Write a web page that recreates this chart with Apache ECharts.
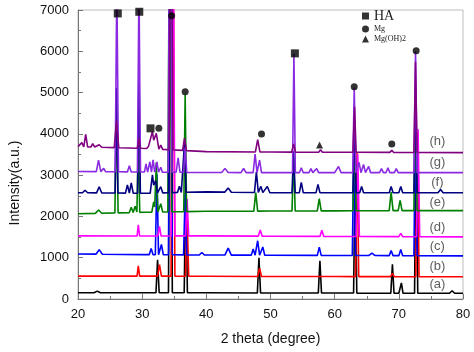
<!DOCTYPE html>
<html>
<head>
<meta charset="utf-8">
<script src="https://cdn.jsdelivr.net/npm/echarts@6/dist/echarts.min.js"></script>
<style>
  html, body { margin: 0; padding: 0; background: #fff; }
  #main { width: 474px; height: 352px; }
</style>
</head>
<body>
<div id="main"></div>
<script>
// baseline knots (2 theta) shared by all traces
var knots = [20, 30, 40, 50, 60, 70, 80];

var traceNames = ['(a)', '(b)', '(c)', '(d)', '(e)', '(f)', '(g)', '(h)'];
var traceColors = ['#000000', '#ff0000', '#0000ff', '#ff00ff', '#008000', '#000080', '#8a2be2', '#800080'];

// baseline level of each trace at the knots
var base_a = [150, 150, 150, 145, 145, 140, 140];
var base_b = [555, 555, 550, 545, 545, 540, 540];
var base_c = [1090, 1075, 1065, 1060, 1055, 1050, 1045];
var base_d = [1530, 1525, 1530, 1520, 1515, 1510, 1505];
var base_e = [2065, 2100, 2125, 2130, 2135, 2140, 2140];
var base_f = [2575, 2560, 2595, 2575, 2575, 2575, 2575];
var base_g = [3090, 3075, 3065, 3060, 3060, 3060, 3060];
var base_h = [3690, 3650, 3570, 3560, 3555, 3550, 3545];

// peaks: [2 theta, height above baseline, half width]
var peaks_a = [[23.0, 40, 0.5], [32.4, 800, 0.25], [34.4, 9000, 0.3], [36.8, 2800, 0.25], [48.2, 850, 0.25],
    [57.7, 780, 0.25], [63.2, 3200, 0.25], [69.0, 700, 0.25], [70.4, 250, 0.25], [72.7, 4000, 0.25], [78.3, 60, 0.4]];
var peaks_b = [[29.4, 250, 0.2], [32.7, 280, 0.3], [34.8, 9000, 0.3], [37.0, 1500, 0.25], [48.3, 200, 0.3],
    [63.5, 3000, 0.25], [69.0, 80, 0.3], [72.9, 3500, 0.25]];
var peaks_c = [[23.3, 110, 0.5], [31.4, 150, 0.3], [32.3, 1950, 0.25], [33.0, 250, 0.3], [34.4, 9000, 0.3],
    [36.7, 1500, 0.25], [39.3, 60, 0.4], [43.4, 170, 0.5], [47.3, 150, 0.3], [48.0, 350, 0.3], [48.8, 200, 0.3],
    [57.6, 200, 0.3], [63.0, 2800, 0.25], [65.8, 60, 0.5], [68.8, 120, 0.3], [70.3, 150, 0.3], [72.6, 3400, 0.25]];
var peaks_d = [[29.4, 270, 0.2], [32.7, 230, 0.25], [34.8, 9000, 0.3], [37.0, 900, 0.25], [48.4, 150, 0.3],
    [58.0, 150, 0.3], [63.6, 2000, 0.25], [70.3, 80, 0.3], [73.0, 2600, 0.25]];
var peaks_e = [[23.2, 80, 0.5], [26.0, 2700, 0.25], [28.3, 130, 0.3], [28.9, 150, 0.3], [29.4, 1800, 0.22],
    [31.8, 250, 0.3], [32.2, 1200, 0.25], [32.9, 200, 0.3], [34.3, 9000, 0.3], [36.7, 2830, 0.22],
    [47.7, 450, 0.3], [53.6, 1300, 0.25], [57.6, 300, 0.3], [63.1, 2000, 0.25], [68.8, 450, 0.3],
    [70.2, 250, 0.3], [72.6, 2700, 0.25]];
var peaks_f = [[21.1, 60, 0.4], [23.3, 150, 0.4], [26.0, 2550, 0.22], [27.7, 200, 0.3], [28.3, 250, 0.3],
    [29.5, 2850, 0.22], [31.6, 440, 0.35], [32.1, 300, 0.3], [32.9, 150, 0.3], [34.4, 9000, 0.3],
    [35.8, 150, 0.3], [36.6, 1200, 0.25], [43.4, 100, 0.5], [47.8, 500, 0.3], [48.5, 150, 0.3],
    [49.5, 150, 0.4], [53.6, 1000, 0.25], [54.8, 250, 0.3], [57.4, 200, 0.3], [63.1, 1700, 0.25],
    [64.2, 150, 0.3], [68.8, 150, 0.3], [70.3, 150, 0.3], [72.6, 2600, 0.25], [76.5, 80, 0.4]];
var peaks_g = [[23.2, 280, 0.35], [24.0, 80, 0.3], [26.05, 4600, 0.26], [28.0, 150, 0.3], [29.5, 4600, 0.24],
    [30.6, 200, 0.25], [31.2, 250, 0.25], [31.7, 300, 0.25], [32.3, 250, 0.25], [32.9, 120, 0.25],
    [34.35, 9000, 0.3], [35.6, 350, 0.3], [36.7, 600, 0.25], [42.9, 100, 0.5], [45.8, 100, 0.4],
    [47.6, 450, 0.3], [48.3, 300, 0.3], [53.65, 2880, 0.22], [54.8, 120, 0.3], [56.3, 100, 0.3],
    [57.2, 100, 0.3], [60.6, 150, 0.4], [63.05, 2060, 0.24], [63.8, 250, 0.3], [64.5, 200, 0.3],
    [65.3, 150, 0.3], [67.3, 100, 0.3], [68.3, 120, 0.3], [69.6, 100, 0.3], [72.6, 2940, 0.24]];
var peaks_h = [[20.6, 100, 0.3], [21.2, 300, 0.3], [22.3, 80, 0.3], [23.3, 60, 0.4], [26.0, 650, 0.35],
    [29.5, 250, 0.25], [31.0, 60, 0.3], [31.6, 420, 0.4], [32.2, 380, 0.4], [32.9, 100, 0.3],
    [34.5, 9000, 0.3], [36.6, 300, 0.3], [48.0, 300, 0.35], [53.6, 200, 0.3], [57.8, 60, 0.3],
    [63.1, 1100, 0.25], [68.9, 50, 0.3], [72.6, 2200, 0.25]];

// phase markers [2 theta, intensity]
var haMarks = [[26.2, 6917], [29.55, 6957], [31.3, 4133], [53.8, 5950]];
var mgMarks = [[32.6, 4133], [34.6, 6860], [36.7, 5020], [48.6, 3995], [63.05, 5140], [68.9, 3753], [72.7, 6010]];
var mgohMarks = [[57.65, 3730]];

// trace tags on the right
var tagTheta = 76;
var tagIntensity = [363, 799, 1266, 1736, 2332, 2816, 3310, 3814];

var bases = [base_a, base_b, base_c, base_d, base_e, base_f, base_g, base_h];
var peakSets = [peaks_a, peaks_b, peaks_c, peaks_d, peaks_e, peaks_f, peaks_g, peaks_h];

function baseAt(base, x) {
    for (var i = 0; i < knots.length - 1; i++) {
        if (x <= knots[i + 1]) {
            var t = (x - knots[i]) / (knots[i + 1] - knots[i]);
            return base[i] + t * (base[i + 1] - base[i]);
        }
    }
    return base[base.length - 1];
}

// piecewise linear trace: baseline plus triangular peaks, evaluated at their break points
function buildTrace(base, peaks) {
    var xs = knots.slice();
    peaks.forEach(function (p) { xs.push(p[0] - p[2], p[0], p[0] + p[2]); });
    xs.sort(function (a, b) { return a - b; });
    var pts = [];
    xs.forEach(function (x) {
        if (pts.length && Math.abs(pts[pts.length - 1][0] - x) < 1e-6) return;
        var y = baseAt(base, x);
        peaks.forEach(function (p) {
            var d = Math.abs(x - p[0]);
            if (d < p[2]) y += p[1] * (1 - d / p[2]);
        });
        pts.push([x, Math.round(y)]);
    });
    return pts;
}

var myChart = echarts.init(document.getElementById('main'), null, { renderer: 'canvas' });

var series = [];
for (var i = 0; i < traceNames.length; i++) {
    series.push({
        name: traceNames[i],
        type: 'line',
        data: buildTrace(bases[i], peakSets[i]),
        symbol: 'none',
        clip: true,
        lineStyle: { color: traceColors[i], width: 1.6 },
        z: 2 + i
    });
}

series.push({
    name: 'tags',
    type: 'scatter',
    symbolSize: 0.1,
    itemStyle: { color: 'rgba(0,0,0,0)' },
    data: traceNames.map(function (n, k) { return { name: n, value: [tagTheta, tagIntensity[k]] }; }),
    label: {
        show: true,
        position: 'inside',
        formatter: '{b}',
        color: '#333',
        fontSize: 13,
        fontFamily: 'Liberation Sans'
    },
    z: 20
});

var markStyle = { color: '#000' };
series.push({ name: 'HA', type: 'scatter', symbol: 'rect', symbolSize: 8, itemStyle: markStyle, data: haMarks, z: 21 });
series.push({ name: 'Mg', type: 'scatter', symbol: 'circle', symbolSize: 7, itemStyle: markStyle, data: mgMarks, z: 21 });
series.push({ name: 'Mg(OH)2', type: 'scatter', symbol: 'triangle', symbolSize: 7, itemStyle: markStyle, data: mgohMarks, z: 21 });

var option = {
    animation: false,
    backgroundColor: '#fff',
    grid: {
        left: 73, right: 11, top: 10, bottom: 53,
        show: true, borderColor: '#bdbdbd', borderWidth: 1, backgroundColor: 'transparent'
    },
    legend: {
        orient: 'vertical',
        left: 362,
        top: 9,
        itemWidth: 7,
        itemHeight: 7,
        itemGap: 2,
        padding: 0,
        selectedMode: false,
        data: [
            { name: 'HA', textStyle: { fontSize: 14 } },
            { name: 'Mg', textStyle: { fontSize: 8 } },
            { name: 'Mg(OH)2', textStyle: { fontSize: 8 } }
        ],
        textStyle: { fontFamily: 'Liberation Serif', color: '#222' }
    },
    xAxis: {
        type: 'value',
        min: 20, max: 80, interval: 10,
        name: '2 theta (degree)',
        nameLocation: 'middle',
        nameGap: 33,
        nameTextStyle: { fontSize: 14, fontFamily: 'Liberation Sans', color: '#111' },
        axisLine: { lineStyle: { color: '#777' } },
        axisTick: { inside: true, length: 5, lineStyle: { color: '#777' } },
        minorTick: { show: true, splitNumber: 2, length: 3, lineStyle: { color: '#777' } },
        splitLine: { show: false },
        axisLabel: { fontSize: 13, fontFamily: 'Liberation Sans', color: '#111', margin: 9 }
    },
    yAxis: {
        type: 'value',
        min: 0, max: 7000, interval: 1000,
        name: 'Intensity(a.u.)',
        nameLocation: 'middle',
        nameGap: 56,
        nameTextStyle: { fontSize: 14, fontFamily: 'Liberation Sans', color: '#111', padding: [0, 57, 0, 0] },
        axisLine: { show: true, lineStyle: { color: '#777' } },
        axisTick: { show: true, inside: true, length: 5, lineStyle: { color: '#777' } },
        minorTick: { show: true, splitNumber: 2, length: 3, lineStyle: { color: '#777' } },
        splitLine: { show: false },
        axisLabel: {
            fontSize: 13, fontFamily: 'Liberation Sans', color: '#111', margin: 9,
            formatter: function (v) { return String(v); }
        }
    },
    series: series
};

myChart.setOption(option);
</script>
</body>
</html>
